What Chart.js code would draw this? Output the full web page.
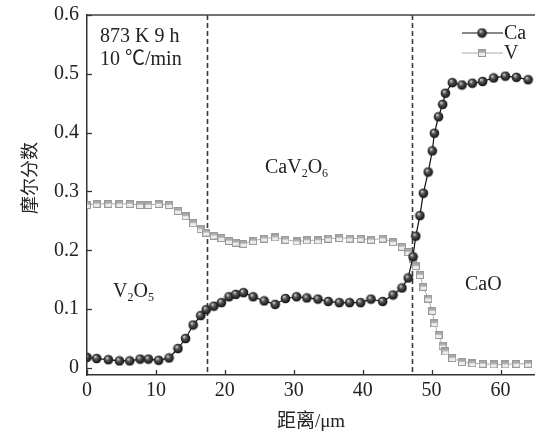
<!DOCTYPE html>
<html><head><meta charset="utf-8">
<script src="https://cdn.jsdelivr.net/npm/chart.js@4"></script>
<style>html,body{margin:0;padding:0;background:#fff}canvas{display:block}</style>
</head><body>
<canvas id="c" width="535" height="437"></canvas>
<script>
const distance = [0,1.4,3.1,4.7,6.2,7.7,8.9,10.4,11.9,13.2,14.3,15.4,16.5,17.3,18.4,19.5,20.6,21.6,22.7,24.1,25.7,27.3,28.8,30.4,31.9,33.5,35.0,36.6,38.1,39.7,41.2,42.9,44.4,45.7,46.6,47.3,47.7,48.3,48.8,49.5,50.1,50.4,51.0,51.6,52.0,53.0,54.4,55.9,57.4,59.0,60.7,62.3,64.0];
const caValues = [0.018,0.016,0.014,0.012,0.012,0.015,0.015,0.013,0.017,0.033,0.05,0.073,0.089,0.099,0.105,0.111,0.121,0.125,0.128,0.121,0.114,0.108,0.118,0.121,0.119,0.117,0.113,0.111,0.111,0.111,0.117,0.113,0.124,0.136,0.153,0.189,0.224,0.259,0.297,0.333,0.369,0.399,0.427,0.448,0.467,0.485,0.481,0.484,0.487,0.493,0.496,0.494,0.49];
const vValues = [0.277,0.279,0.279,0.279,0.279,0.277,0.277,0.279,0.277,0.267,0.258,0.246,0.236,0.23,0.225,0.221,0.216,0.213,0.211,0.216,0.22,0.222,0.218,0.215,0.217,0.217,0.22,0.221,0.22,0.22,0.218,0.22,0.214,0.206,0.197,0.186,0.173,0.158,0.138,0.118,0.097,0.076,0.056,0.038,0.028,0.017,0.010,0.008,0.007,0.006,0.006,0.007,0.007];
const seriesNames = ["Ca","V"];
const xTickValues = [0,10,20,30,40,50,60];
const yTickValues = [0,0.1,0.2,0.3,0.4,0.5,0.6];
const phaseBoundaries = [17.4, 47.1];
const xTitle = "距离/μm";
const yTitle = "摩尔分数";
const condLines = ["873 K 9 h","10 ℃/min"];

const SERIF = '"Liberation Serif","Noto Sans CJK SC",serif';
const TXT = '#222';

function sphere(){
  const c=document.createElement('canvas');c.width=11;c.height=11;
  const g=c.getContext('2d');
  const gr=g.createRadialGradient(4,3.6,0.3,5.5,5.5,5.2);
  gr.addColorStop(0,'#d8d8d8');gr.addColorStop(0.35,'#555');gr.addColorStop(1,'#050505');
  g.fillStyle=gr;g.beginPath();g.arc(5.5,5.5,4.8,0,Math.PI*2);g.fill();
  return c;
}
function square(){
  const c=document.createElement('canvas');c.width=8;c.height=8;
  const g=c.getContext('2d');
  g.fillStyle='#ececec';g.fillRect(0.5,0.5,7,7);
  g.fillStyle='#a8a8a8';g.fillRect(0.5,0.5,7,3.2);
  g.strokeStyle='#9a9a9a';g.lineWidth=1;g.strokeRect(0.5,0.5,7,7);
  return c;
}
const caImg=sphere(), vImg=square();

function drawSub(ctx, parts, x, y, size){
  ctx.textBaseline='alphabetic';ctx.textAlign='left';
  let cx=x;
  for(const [t,sub] of parts){
    ctx.font=(sub?Math.round(size*0.62):size)+'px '+SERIF;
    ctx.fillText(t,cx,sub?y+4:y);
    cx+=ctx.measureText(t).width;
  }
}

const deco={
  id:'deco',
  beforeDatasetsDraw(chart){
    const {ctx,chartArea:a,scales:{x}}=chart;
    ctx.save();ctx.strokeStyle='#3a3a3a';ctx.lineWidth=1.6;ctx.setLineDash([5,3]);
    for(const b of phaseBoundaries){const px=Math.round(x.getPixelForValue(b))+0.5;ctx.beginPath();ctx.moveTo(px,a.top);ctx.lineTo(px,a.bottom);ctx.stroke();}
    ctx.restore();
  },
  afterDraw(chart){
    const {ctx,chartArea:a,scales:{x,y}}=chart;
    ctx.save();
    ctx.strokeStyle='#444';ctx.lineWidth=1.5;
    ctx.beginPath();ctx.moveTo(a.left,a.top);ctx.lineTo(a.right,a.top);ctx.stroke();
    ctx.strokeStyle='#333';ctx.lineWidth=1.3;
    for(const v of xTickValues){const px=Math.round(x.getPixelForValue(v))+0.5;ctx.beginPath();ctx.moveTo(px,a.bottom);ctx.lineTo(px,a.bottom-5);ctx.stroke();}
    for(const v of yTickValues){const py=Math.round(y.getPixelForValue(v))+0.5;ctx.beginPath();ctx.moveTo(a.left,py);ctx.lineTo(a.left+5,py);ctx.stroke();}
    ctx.fillStyle=TXT;
    ctx.font='19px '+SERIF;ctx.textAlign='center';ctx.textBaseline='middle';
    ctx.fillText(xTitle,311,422);
    ctx.save();ctx.translate(29,178);ctx.rotate(-Math.PI/2);ctx.font='18px "Noto Sans CJK SC"';ctx.fillText(yTitle,0,0);ctx.restore();
    ctx.font='20px '+SERIF;ctx.textAlign='left';ctx.textBaseline='alphabetic';
    ctx.fillText(condLines[0],100,42);
    ctx.fillText(condLines[1],100,65);
    drawSub(ctx,[["CaV",false],["2",true],["O",false],["6",true]],265,173,20);
    drawSub(ctx,[["V",false],["2",true],["O",false],["5",true]],113,297,20);
    drawSub(ctx,[["CaO",false]],465,290,20);
    const ds=chart.data.datasets;
    const rows=[[33,ds[0],caImg],[53,ds[1],vImg]];
    for(const [ly,d,img] of rows){
      ctx.strokeStyle=d.borderColor;ctx.lineWidth=d.borderWidth;
      ctx.beginPath();ctx.moveTo(462,ly);ctx.lineTo(503,ly);ctx.stroke();
      ctx.drawImage(img,482-img.width/2,ly-img.height/2);
      ctx.fillStyle=TXT;ctx.font='20px '+SERIF;ctx.textBaseline='middle';ctx.textAlign='left';
      ctx.fillText(d.label,504,ly+1);
    }
    ctx.restore();
  }
};

new Chart(document.getElementById('c'),{
  type:'line',
  data:{datasets:[
    {label:seriesNames[0],data:distance.map((d,i)=>({x:d,y:caValues[i]})),borderColor:'#111',borderWidth:1.2,pointStyle:caImg,pointRadius:5,tension:0,order:0},
    {label:seriesNames[1],data:distance.map((d,i)=>({x:d,y:vValues[i]})),borderColor:'#aaaaaa',borderWidth:1,pointStyle:vImg,pointRadius:4,tension:0,order:1}
  ]},
  options:{
    responsive:false,animation:false,devicePixelRatio:1,
    layout:{autoPadding:false,padding:{top:15,left:0,right:0,bottom:0}},
    plugins:{legend:{display:false},tooltip:{enabled:false}},
    scales:{
      x:{type:'linear',min:0,max:65,
        afterBuildTicks(s){s.ticks=xTickValues.map(v=>({value:v}));},
        afterFit(s){s.height=62;s.paddingLeft=0;s.paddingRight=0;},
        grid:{display:false,drawTicks:false},border:{display:true,color:'#333',width:1.5},
        ticks:{color:TXT,font:{family:SERIF,size:20},padding:4,maxRotation:0,autoSkip:false,callback:v=>String(v)}},
      y:{type:'linear',min:-0.012,max:0.6,
        afterBuildTicks(s){s.ticks=yTickValues.map(v=>({value:v}));},
        afterFit(s){s.width=87;s.paddingTop=0;s.paddingBottom=0;},
        grid:{display:false,drawTicks:false},border:{display:true,color:'#333',width:1.5},
        ticks:{color:TXT,font:{family:SERIF,size:20},padding:8,autoSkip:false,callback:v=>String(v)}}
    }
  },
  plugins:[deco]
});
</script>
</body></html>
